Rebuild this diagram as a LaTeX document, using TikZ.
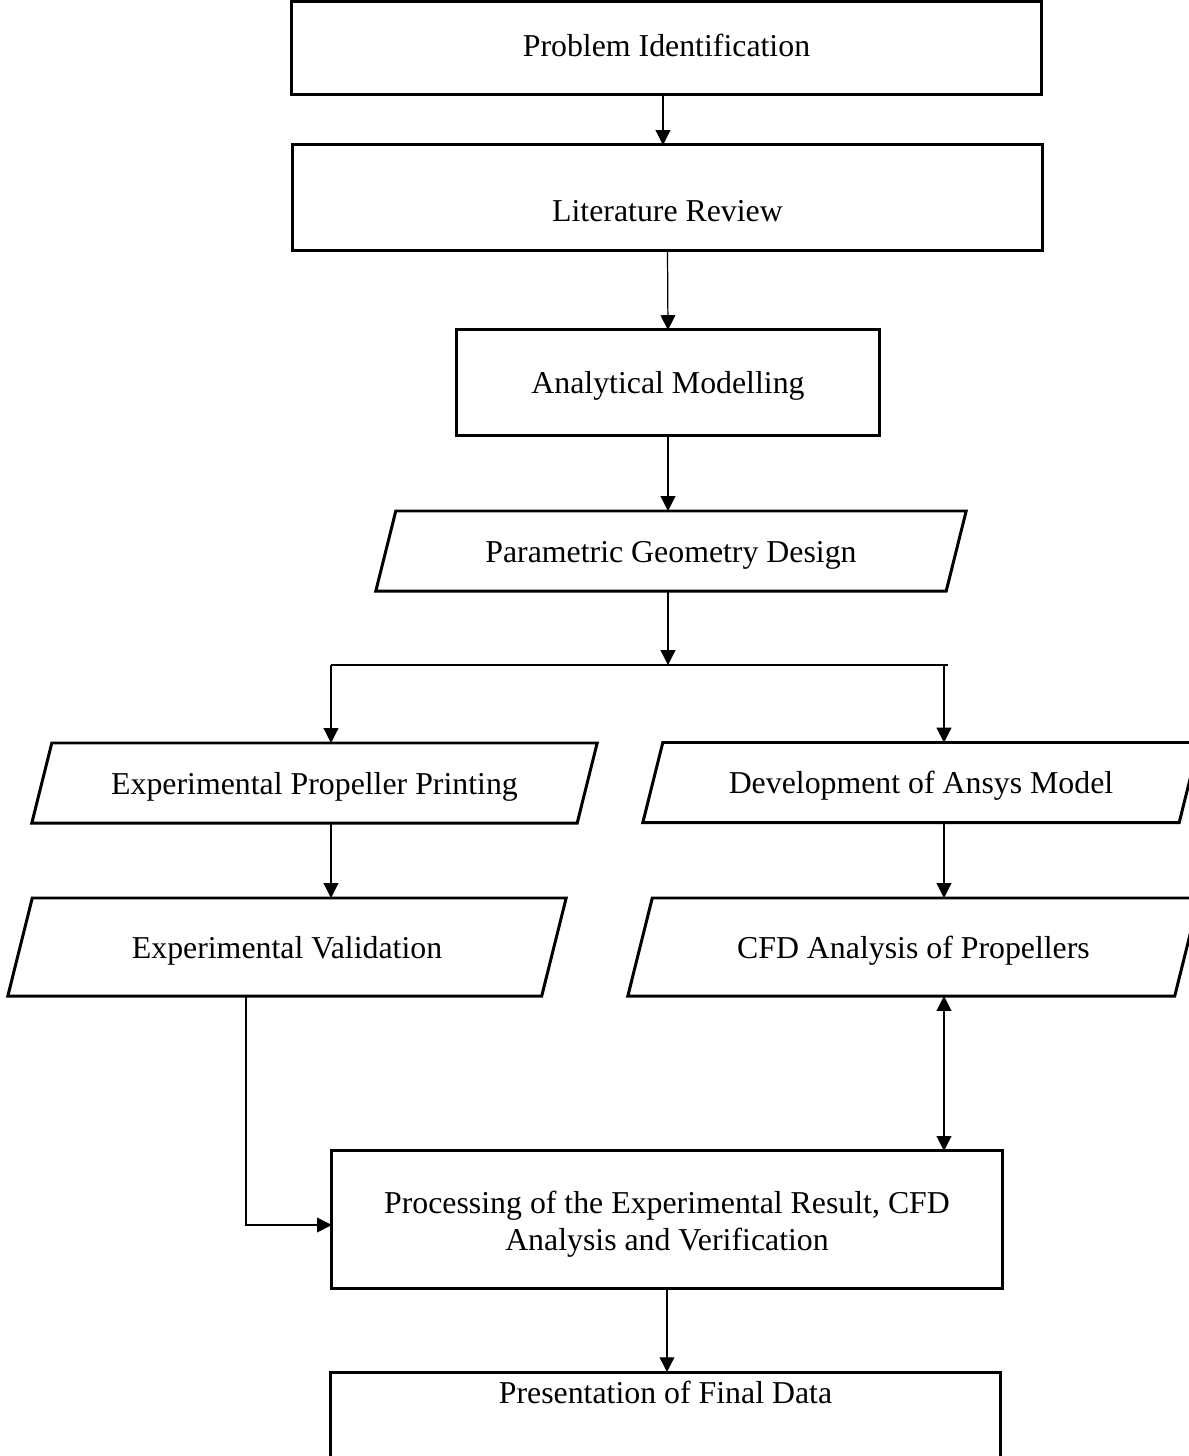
\documentclass[tikz,border=0pt]{standalone}
\usepackage{fontspec}
\setmainfont{Liberation Serif}
\usetikzlibrary{arrows.meta,shapes.geometric}
\tikzset{
  blk/.style={draw=black,line width=0.85pt,align=center,inner sep=2pt,outer sep=0pt,
              font=\fontsize{9.05}{10.6}\selectfont},
  arr/.style={-{Triangle[length=4.2pt,width=4.2pt]},line width=0.35pt,black},
  darr/.style={{Triangle[length=4.2pt,width=4.2pt]}-{Triangle[length=4.2pt,width=4.2pt]},line width=0.35pt,black},
  ln/.style={line width=0.35pt,black},
}
\begin{document}
\begin{tikzpicture}[x=0.01cm,y=-0.01cm,
  box/.style={blk,rectangle,text height=7.5pt,text depth=1pt},
  io/.style={blk,trapezium,trapezium left angle=76,trapezium right angle=104,
             trapezium stretches body,text height=7.5pt,text depth=1pt,inner ysep=7.13pt},
  tall/.style={inner ysep=9.69pt}]
\useasboundingbox (0,0) rectangle (1189,1456);
\clip (0,0) rectangle (1189,1456);
% main column
\node[box,minimum width=7.49cm,minimum height=0.92cm,text height=6.5pt,text depth=1.8pt]
  (probid) at (666.5,48) {Problem Identification};
\node[box,minimum width=7.49cm,minimum height=1.05cm,text height=13.5pt,text depth=0pt]
  (litrev) at (667.5,197.5) {Literature Review};
\node[box,minimum width=4.22cm,minimum height=1.05cm] (anamod) at (668,382.5) {Analytical Modelling};
\node[io,minimum width=5.90cm] (pgd) at (671,551) {Parametric Geometry Design};
% two branches
\node[io,minimum width=5.65cm] (epp) at (314.5,783) {Experimental Propeller Printing};
\node[io,minimum width=5.56cm] (dam) at (921,782.5) {Development of Ansys Model};
\node[io,tall,minimum width=5.58cm] (expval) at (287,947) {Experimental Validation};
\node[io,tall,minimum width=5.71cm] (cfd) at (913.5,947) {CFD Analysis of Propellers};
% results
\node[blk,rectangle,minimum width=6.70cm,minimum height=1.37cm] (proc) at (667,1219.5)
  {\rule{0pt}{9pt}Processing of the Experimental Result, CFD\\Analysis and Verification};
\node[blk,rectangle,minimum width=6.69cm,anchor=north,text height=6.2pt,text depth=26pt,inner ysep=2.7pt]
  (final) at (665.5,1372) {Presentation of Final Data};
% flow
\coordinate (a12) at (663,0);
\coordinate (split) at (668,665);
\coordinate (brL) at (331,665);
\coordinate (brR) at (944,665);
\coordinate (turn) at (246,1225);
\draw[arr] (a12 |- probid.south) -- (a12 |- litrev.north);
\draw[arr] (litrev.south) -- (anamod.north);
\draw[arr] (anamod.south) -- (pgd.north -| anamod.south);
\draw[arr] (split |- pgd.south) -- (split);
\draw[ln] (brL) -- ([xshift=0.04cm]brR);
\draw[arr] (brL) -- (brL |- epp.north);
\draw[arr] (brR) -- (brR |- dam.north);
\draw[arr] (brL |- epp.south) -- (brL |- expval.north);
\draw[arr] (brR |- dam.south) -- (brR |- cfd.north);
\draw[darr] (brR |- cfd.south) -- (brR |- proc.north);
\draw[arr] (turn |- expval.south) -- (turn) -- (turn -| proc.west);
\draw[arr] (proc.south) -- (proc.south |- final.north);
\end{tikzpicture}
\end{document}
